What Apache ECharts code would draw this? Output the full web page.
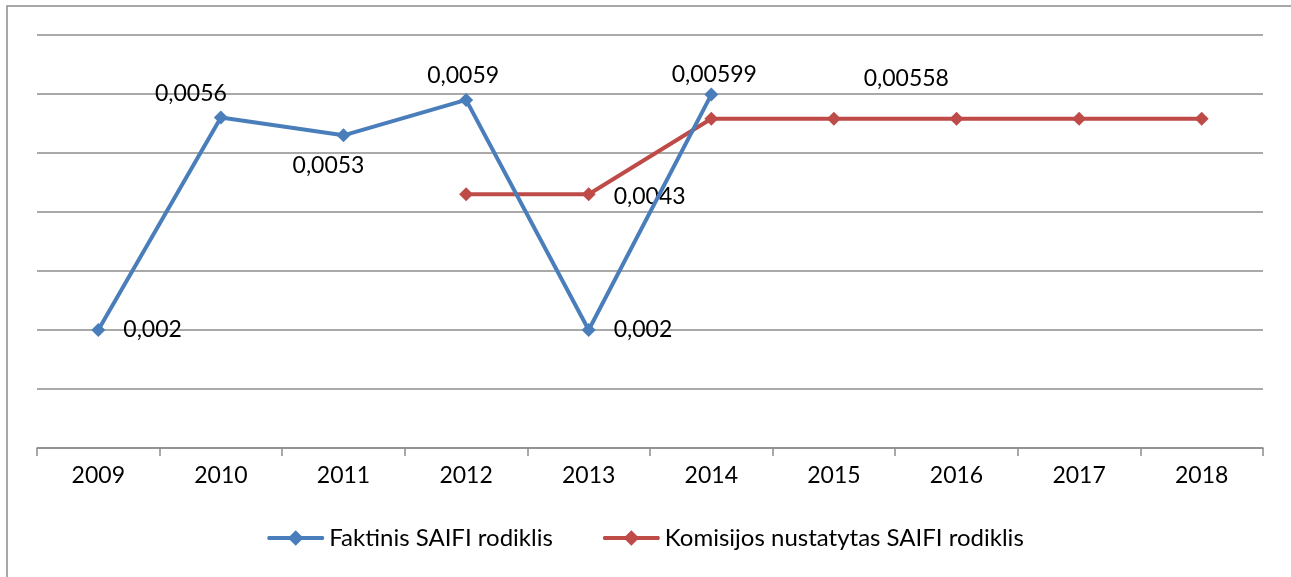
<!DOCTYPE html>
<html>
<head>
<meta charset="utf-8">
<script src="https://cdn.jsdelivr.net/npm/echarts@6/dist/echarts.min.js"></script>
<style>
	html, body { margin: 0; padding: 0; background: #fff; }
	#chart { width: 1291px; height: 577px; }
</style>
</head>
<body>
<div id="chart"></div>
<script>
var years = ['2009', '2010', '2011', '2012', '2013', '2014', '2015', '2016', '2017', '2018'];
var faktinis = [0.002, 0.0056, 0.0053, 0.0059, 0.002, 0.00599, null, null, null, null];
var komisijos = [null, null, null, 0.0043, 0.0043, 0.00558, 0.00558, 0.00558, 0.00558, 0.00558];
var seriesNames = ['Faktinis SAIFI rodiklis', 'Komisijos nustatytas SAIFI rodiklis'];

// which points carry a label, and where
var faktinisLabels = [
	{ position: 'right', distance: 18 },
	{ position: 'top', offset: [-30, 2] },
	{ position: 'bottom', offset: [-15, 4] },
	{ position: 'top', offset: [-3, 2] },
	{ position: 'right', distance: 18 },
	{ position: 'top', offset: [3, 6] }
];
var komisijosLabels = {
	4: { position: 'right', distance: 18, offset: [0, 2] },
	5: { position: 'top', offset: [195, -14] }
};

function fmt(v) {
	return String(v).replace('.', ',');
}

var font = 'Lato, "Open Sans", sans-serif';
// thick line with a diamond, like the legend keys of the original
var legendIcon = 'path://M2,6 L55,6 Q57,8 55,10 L2,10 Q0,8 2,6 Z M28.5,0.5 L36,8 L28.5,15.5 L21,8 Z';

function buildData(values, labels) {
	return values.map(function(v, i) {
		var l = labels[i];
		if (v === null) return null;
		if (!l) return { value: v };
		return {
			value: v,
			label: {
				show: true,
				position: l.position,
				distance: l.distance || 8,
				offset: l.offset || [0, 0],
				formatter: function(p) { return fmt(p.value); },
				color: '#000',
				fontSize: 23,
				fontFamily: font
			}
		};
	});
}

var myChart = echarts.init(document.getElementById('chart'));
var option = {
	animation: false,
	graphic: [{
		type: 'rect',
		shape: { x: 7, y: 6, width: 1400, height: 700 },
		style: { fill: 'none', stroke: '#8c8c8c', lineWidth: 1.5 },
		z: -10
	}],
	grid: {
		left: 37,
		right: 28,
		top: 35,
		bottom: 129,
		containLabel: false
	},
	legend: {
		bottom: 22,
		left: 'center',
		itemWidth: 57,
		itemHeight: 16,
		itemGap: 50,
		icon: legendIcon,
		textStyle: { fontSize: 24, fontFamily: font, color: '#000' },
		data: seriesNames
	},
	xAxis: {
		type: 'category',
		data: years,
		boundaryGap: true,
		axisLine: { lineStyle: { color: '#8c8c8c', width: 1.5 } },
		axisTick: { show: true, length: 8, lineStyle: { color: '#8c8c8c', width: 1.5 } },
		axisLabel: { fontSize: 23, fontFamily: font, color: '#000', margin: 16 }
	},
	yAxis: {
		type: 'value',
		min: 0,
		max: 0.007,
		interval: 0.001,
		axisLine: { show: false },
		axisTick: { show: false },
		axisLabel: { show: false },
		splitLine: { lineStyle: { color: '#8c8c8c', width: 1.5 } }
	},
	series: [{
		name: seriesNames[0],
		type: 'line',
		data: buildData(faktinis, faktinisLabels),
		symbol: 'diamond',
		symbolSize: 14,
		color: '#4a7ebb',
		lineStyle: { width: 4, color: '#4a7ebb' },
		itemStyle: { color: '#4a7ebb' },
		z: 3
	}, {
		name: seriesNames[1],
		type: 'line',
		data: buildData(komisijos, komisijosLabels),
		symbol: 'diamond',
		symbolSize: 14,
		color: '#be4b48',
		lineStyle: { width: 4, color: '#be4b48' },
		itemStyle: { color: '#be4b48' },
		z: 2
	}]
};
myChart.setOption(option);
</script>
</body>
</html>
